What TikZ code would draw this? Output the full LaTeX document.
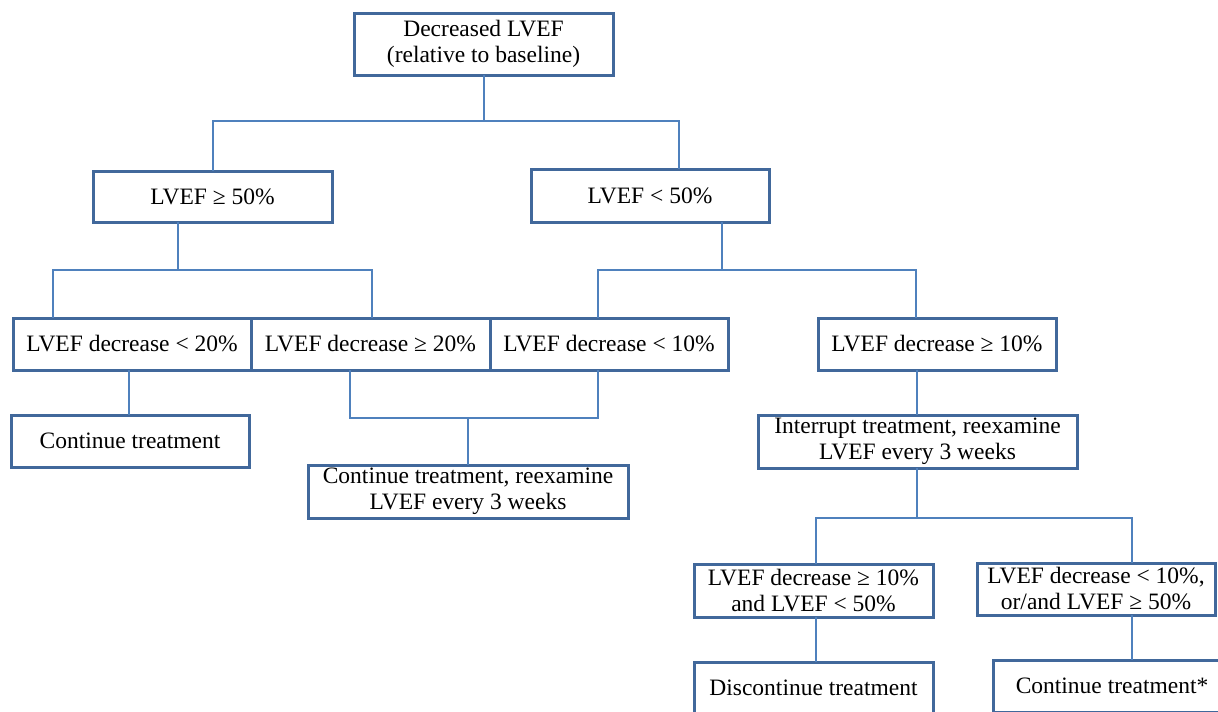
\documentclass[tikz,border=0pt]{standalone}
\usepackage{fontspec}
\setmainfont{Liberation Serif}
\definecolor{boxc}{HTML}{41689B}
\definecolor{linec}{HTML}{4F81BD}
\tikzset{
  box/.style={draw=boxc, line width=3pt, fill=white, align=center, inner sep=0pt,
    font=\fontsize{23.5}{26}\selectfont},
  conn/.style={draw=linec, line width=2.6pt}
}
\begin{document}
\begin{tikzpicture}[x=1pt,y=-1pt]
\useasboundingbox (0,0) rectangle (1218,712);
\clip (0,0) rectangle (1218,712);
\coordinate (topout) at (484,75);
\coordinate (j1) at (484,121);
\coordinate (g50in) at (213,171);
\coordinate (lt50in) at (679,169);
\coordinate (g50out) at (178,222);
\coordinate (j2) at (178,270);
\coordinate (dlt20in) at (53,318);
\coordinate (dge20in) at (372,318);
\coordinate (l50out) at (722,222);
\coordinate (j3) at (722,270);
\coordinate (dlt10in) at (598,318);
\coordinate (dge10in) at (916,318);
\coordinate (dlt20out) at (129,370);
\coordinate (contin) at (129,415);
\coordinate (dge20out) at (350,370);
\coordinate (dlt10out) at (598,370);
\coordinate (j4) at (468,418);
\coordinate (contrein) at (468,465);
\coordinate (dge10out) at (917,370);
\coordinate (intin) at (917,415);
\coordinate (intout) at (917,468);
\coordinate (j5) at (917,518);
\coordinate (ain) at (816,564);
\coordinate (bin) at (1132,563);
\coordinate (aout) at (816,617);
\coordinate (dcin) at (816,662);
\coordinate (bout) at (1132,615);
\coordinate (csin) at (1132,660);

\node[box, minimum width=259pt, minimum height=62pt] (top) at (483.5,44) {Decreased LVEF\\(relative to baseline)};
\node[box, minimum width=239pt, minimum height=51pt] (ge50) at (212.5,196.5) {LVEF ≥ 50\%};
\node[box, minimum width=238pt, minimum height=53pt] (lt50) at (650,195.5) {LVEF < 50\%};
\node[box, minimum width=238pt, minimum height=52pt] (dlt20) at (132,344) {LVEF decrease < 20\%};
\node[box, minimum width=239pt, minimum height=52pt] (dge20) at (370.5,344) {LVEF decrease ≥ 20\%};
\node[box, minimum width=238pt, minimum height=52pt] (dlt10) at (609,344) {LVEF decrease < 10\%};
\node[box, minimum width=238pt, minimum height=52pt] (dge10) at (937,344) {LVEF decrease ≥ 10\%};
\node[box, minimum width=238pt, minimum height=52pt] (cont) at (130,441) {Continue treatment};
\node[box, minimum width=320pt, minimum height=53pt] (contre) at (468,491.5) {Continue treatment, reexamine\\LVEF every 3 weeks};
\node[box, minimum width=319pt, minimum height=53pt] (inter) at (917.5,441.5) {Interrupt treatment, reexamine\\LVEF every 3 weeks};
\node[box, minimum width=239pt, minimum height=53pt] (boxa) at (813.5,590.5) {LVEF decrease ≥ 10\%\\and LVEF < 50\%};
\node[box, minimum width=238pt, minimum height=52pt] (boxb) at (1096,589) {LVEF decrease < 10\%,\\or/and LVEF ≥ 50\%};
\node[box, minimum width=239pt, minimum height=52pt] (disc) at (813.5,688) {Discontinue treatment};
\node[box, minimum width=238pt, minimum height=52pt] (conts) at (1112,686) {Continue treatment*};

\draw[conn] (topout) -- (j1);
\draw[conn] (g50in) |- (j1) -| (lt50in);
\draw[conn] (g50out) -- (j2);
\draw[conn] (dlt20in) |- (j2) -| (dge20in);
\draw[conn] (l50out) -- (j3);
\draw[conn] (dlt10in) |- (j3) -| (dge10in);
\draw[conn] (dlt20out) -- (contin);
\draw[conn] (dge20out) |- (j4);
\draw[conn] (dlt10out) |- (j4);
\draw[conn] (j4) -- (contrein);
\draw[conn] (dge10out) -- (intin);
\draw[conn] (intout) -- (j5);
\draw[conn] (ain) |- (j5) -| (bin);
\draw[conn] (aout) -- (dcin);
\draw[conn] (bout) -- (csin);
\end{tikzpicture}
\end{document}
